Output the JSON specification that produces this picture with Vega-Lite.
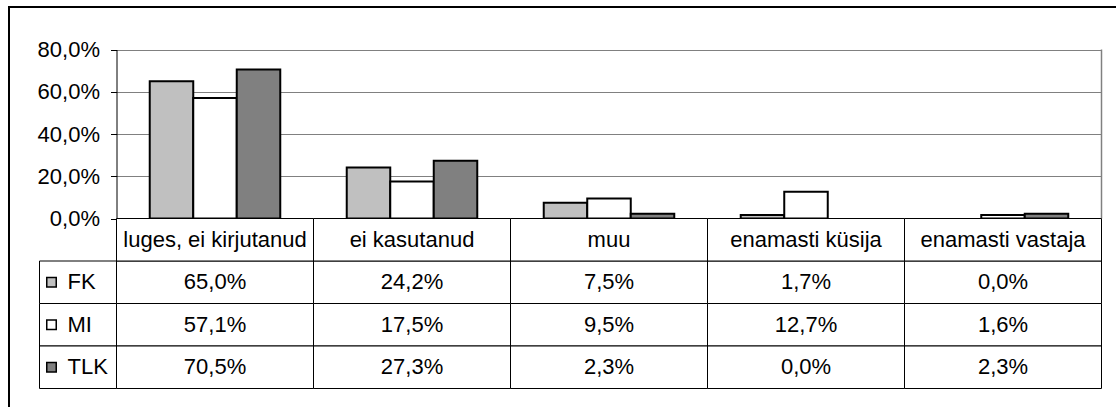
{
  "$schema": "https://vega.github.io/schema/vega-lite/v6.json",
  "width": 1110,
  "height": 403,
  "autosize": {"type": "none"},
  "padding": {"left": 9, "top": 7, "right": -3, "bottom": -3},
  "background": "white",
  "config": {
    "view": {"stroke": "black", "strokeWidth": 2},
    "font": "Liberation Sans",
    "locale": {"number": {"decimal": ",", "thousands": "\u00a0", "grouping": [3], "currency": ["", "\u00a0€"]}}
  },
  "datasets": {
    "d": [
      {"cat": "luges, ei kirjutanud", "series": "FK", "value": 0.65},
      {"cat": "luges, ei kirjutanud", "series": "MI", "value": 0.571},
      {"cat": "luges, ei kirjutanud", "series": "TLK", "value": 0.705},
      {"cat": "ei kasutanud", "series": "FK", "value": 0.242},
      {"cat": "ei kasutanud", "series": "MI", "value": 0.175},
      {"cat": "ei kasutanud", "series": "TLK", "value": 0.273},
      {"cat": "muu", "series": "FK", "value": 0.075},
      {"cat": "muu", "series": "MI", "value": 0.095},
      {"cat": "muu", "series": "TLK", "value": 0.023},
      {"cat": "enamasti küsija", "series": "FK", "value": 0.017},
      {"cat": "enamasti küsija", "series": "MI", "value": 0.127},
      {"cat": "enamasti küsija", "series": "TLK", "value": 0.0},
      {"cat": "enamasti vastaja", "series": "FK", "value": 0.0},
      {"cat": "enamasti vastaja", "series": "MI", "value": 0.016},
      {"cat": "enamasti vastaja", "series": "TLK", "value": 0.023}
    ]
  },
  "resolve": {"scale": {"x": "independent", "y": "independent"}, "axis": {"x": "independent", "y": "independent"}},
  "layer": [
    {
      "layer": [
        {
          "data": {"name": "d"},
          "transform": [{"filter": "datum.value > 0"}],
          "mark": {"type": "bar", "stroke": "black", "strokeWidth": 2},
          "encoding": {
            "x": {"field": "cat", "type": "nominal",
                  "scale": {"domain": ["luges, ei kirjutanud", "ei kasutanud", "muu", "enamasti küsija", "enamasti vastaja"], "range": [107.5, 1092.5], "paddingInner": 0, "paddingOuter": 0},
                  "axis": null},
            "xOffset": {"field": "series", "type": "nominal",
                        "scale": {"domain": ["FK", "MI", "TLK"], "paddingInner": 0, "paddingOuter": 0.764}},
            "y": {"field": "value", "type": "quantitative",
                  "scale": {"domain": [0, 0.8], "range": [211.5, 42.5], "nice": false, "zero": true},
                  "axis": {"values": [0, 0.2, 0.4, 0.6, 0.8], "format": ".1%", "offset": -107.5, "title": null,
                           "tickSize": 6, "tickColor": "black", "tickWidth": 1,
                           "domainColor": "black", "domainWidth": 1,
                           "labelPadding": 11, "labelFontSize": 22, "labelFont": "Liberation Sans", "labelColor": "black",
                           "labelFlush": false, "labelOverlap": false,
                           "grid": true, "gridColor": "#808080", "gridWidth": 1}},
            "color": {"field": "series", "type": "nominal",
                      "scale": {"domain": ["FK", "MI", "TLK"], "range": ["#c0c0c0", "#ffffff", "#808080"]},
                      "legend": null}
          }
        },
        {
          "data": {"values": [{}]},
          "mark": {"type": "rule", "color": "#808080", "strokeWidth": 1.5},
          "encoding": {
            "x": {"datum": "enamasti vastaja", "type": "nominal", "bandPosition": 1},
            "y": {"datum": 0, "type": "quantitative"},
            "y2": {"datum": 0.8}
          }
        }
      ]
    },
    {
      "data": {"name": "d"},
      "encoding": {
        "x": {"field": "cat", "type": "nominal",
              "scale": {"domain": ["luges, ei kirjutanud", "ei kasutanud", "muu", "enamasti küsija", "enamasti vastaja"], "range": [107.5, 1092.5], "paddingInner": 0, "paddingOuter": 0},
              "axis": null}
      },
      "layer": [
        {
          "mark": {"type": "rect", "fill": "white", "stroke": "black", "strokeWidth": 1},
          "encoding": {
            "y": {"field": "series", "type": "nominal",
                  "scale": {"domain": ["header", "FK", "MI", "TLK"], "range": [211.5, 381.5], "paddingInner": 0, "paddingOuter": 0},
                  "axis": null}
          }
        },
        {
          "transform": [{"filter": "datum.series == 'FK'"}],
          "mark": {"type": "rect", "fill": "white", "stroke": "black", "strokeWidth": 1},
          "encoding": {"y": {"datum": "header", "type": "nominal"}}
        },
        {
          "mark": {"type": "text", "fontSize": 22, "color": "black", "font": "Liberation Sans"},
          "encoding": {
            "y": {"field": "series", "type": "nominal"},
            "text": {"field": "value", "type": "quantitative", "format": ".1%"}
          }
        },
        {
          "transform": [{"filter": "datum.series == 'FK'"}],
          "mark": {"type": "text", "fontSize": 22, "color": "black", "font": "Liberation Sans"},
          "encoding": {
            "y": {"datum": "header", "type": "nominal"},
            "text": {"field": "cat", "type": "nominal"}
          }
        }
      ]
    },
    {
      "data": {"name": "d"},
      "transform": [{"filter": "datum.cat == 'muu'"}],
      "encoding": {
        "x": {"datum": "legend", "type": "nominal",
              "scale": {"domain": ["legend"], "range": [30.5, 107.5], "paddingInner": 0, "paddingOuter": 0},
              "axis": null},
        "y": {"field": "series", "type": "nominal",
              "scale": {"domain": ["header", "FK", "MI", "TLK"], "range": [211.5, 381.5], "paddingInner": 0, "paddingOuter": 0},
              "axis": null}
      },
      "layer": [
        {
          "mark": {"type": "rect", "fill": "white", "stroke": "black", "strokeWidth": 1}
        },
        {
          "mark": {"type": "point", "shape": "square", "size": 90, "filled": true, "stroke": "black", "strokeWidth": 1.5, "opacity": 1, "xOffset": 12},
          "encoding": {
            "x": {"datum": "legend", "type": "nominal", "bandPosition": 0},
            "color": {"field": "series", "type": "nominal", "legend": null}
          }
        },
        {
          "mark": {"type": "text", "align": "left", "dx": 28, "fontSize": 22, "color": "black", "font": "Liberation Sans"},
          "encoding": {
            "x": {"datum": "legend", "type": "nominal", "bandPosition": 0},
            "text": {"field": "series", "type": "nominal"}
          }
        }
      ]
    }
  ]
}
